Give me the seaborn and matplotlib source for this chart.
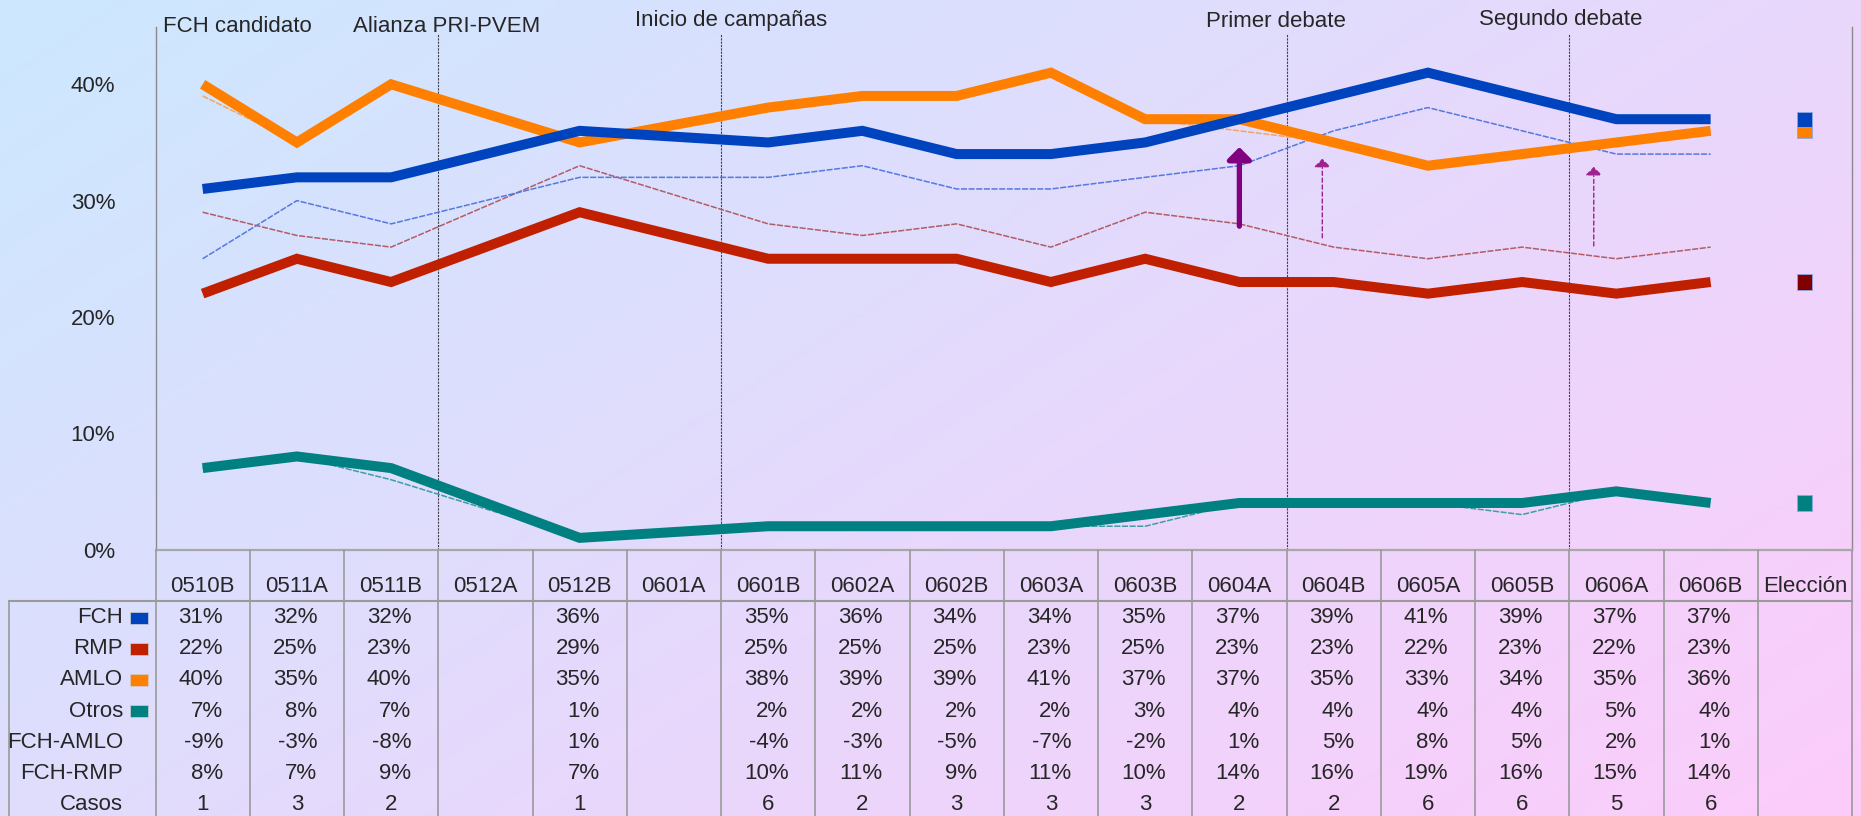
import numpy as np
import pandas as pd
import matplotlib
matplotlib.use("Agg")
import matplotlib.pyplot as plt
import seaborn as sns
from matplotlib.transforms import blended_transform_factory
from matplotlib.lines import Line2D
from matplotlib.patches import Rectangle

# ---------------- data ----------------
periods = ["0510B", "0511A", "0511B", "0512A", "0512B", "0601A", "0601B", "0602A",
           "0602B", "0603A", "0603B", "0604A", "0604B", "0605A", "0605B", "0606A",
           "0606B", "Elección"]
N = None
fch = [31, 32, 32, N, 36, N, 35, 36, 34, 34, 35, 37, 39, 41, 39, 37, 37]
rmp = [22, 25, 23, N, 29, N, 25, 25, 25, 23, 25, 23, 23, 22, 23, 22, 23]
amlo = [40, 35, 40, N, 35, N, 38, 39, 39, 41, 37, 37, 35, 33, 34, 35, 36]
otros = [7, 8, 7, N, 1, N, 2, 2, 2, 2, 3, 4, 4, 4, 4, 5, 4]
fch_thin = [25, 30, 28, N, 32, N, 32, 33, 31, 31, 32, 33, 36, 38, 36, 34, 34]
rmp_thin = [29, 27, 26, N, 33, N, 28, 27, 28, 26, 29, 28, 26, 25, 26, 25, 26]
amlo_thin = [39, 35, 40, N, 35, N, 38, 39, 39, 41, 37, 36, 35, 33, 34, 35, 36]
otros_thin = [7, 8, 6, N, 1, N, 2, 2, 2, 2, 2, 4, 4, 4, 3, 5, 4]
fch_amlo = [-9, -3, -8, N, 1, N, -4, -3, -5, -7, -2, 1, 5, 8, 5, 2, 1]
fch_rmp = [8, 7, 9, N, 7, N, 10, 11, 9, 11, 10, 14, 16, 19, 16, 15, 14]
casos = [1, 3, 2, N, 1, N, 6, 2, 3, 3, 3, 2, 2, 6, 6, 5, 6]
election_series = ["Otros", "RMP", "AMLO", "FCH"]
election_values = [4, 23, 36, 37]
events = ["FCH candidato", "Alianza PRI-PVEM", "Inicio de campañas", "Primer debate", "Segundo debate"]
event_lines = [2.5, 5.5, 11.5, 14.5]
arrow_x = [11.0, 11.88, 14.76]
arrow_from = [27.8, 26.8, 26.1]
arrow_to = [34.6, 33.6, 32.9]
yticks = [0, 10, 20, 30, 40]

series_names = ["FCH", "RMP", "AMLO", "Otros"]
thick = {"FCH": fch, "RMP": rmp, "AMLO": amlo, "Otros": otros}
thin = {"FCH": fch_thin, "RMP": rmp_thin, "AMLO": amlo_thin, "Otros": otros_thin}
colors = {"FCH": "#0043BE", "RMP": "#C01F00", "AMLO": "#FF8000", "Otros": "#008080"}
thin_colors = {"FCH": "#5579DC", "RMP": "#B25C66", "AMLO": "#F6A45E", "Otros": "#3E9EA4"}
elec_colors = {"FCH": "#0043BE", "RMP": "#800000", "AMLO": "#FF8000", "Otros": "#008080"}


def long_df(d):
    rows = []
    for name, vals in d.items():
        for i, v in enumerate(vals):
            if v is not None:
                rows.append({"x": i, "value": v / 100.0, "series": name})
    return pd.DataFrame(rows)


df_thick = long_df(thick)
df_thin = long_df(thin)
df_elec = pd.DataFrame({"x": [len(periods) - 1] * 4,
                        "value": [v / 100.0 for v in election_values],
                        "series": election_series})

# ---------------- figure ----------------
sns.set_style("white")
plt.rcParams["font.family"] = ["Liberation Sans", "DejaVu Sans"]
FS = 16
W, H = 1861, 816
fig = plt.figure(figsize=(W / 100, H / 100), dpi=100)


def fx(px):
    return px / W


def fy(px):
    return 1 - px / H


# gradient background
bg = fig.add_axes([0, 0, 1, 1], zorder=-10)
gx, gy = np.meshgrid(np.linspace(0, 1, 400), np.linspace(0, 1, 200))
t = (gx * 0.6 + gy * 0.4)
c0 = np.array([0.80, 0.91, 1.00])
c1 = np.array([0.99, 0.80, 0.98])
img = c0[None, None, :] * (1 - t[..., None]) + c1[None, None, :] * t[..., None]
bg.imshow(img, aspect="auto", extent=[0, 1, 0, 1], origin="upper")
bg.set_axis_off()

x_left, x_right, y_top, y_zero = 155.5, 1852, 27, 549.5
ax = fig.add_axes([fx(x_left), fy(y_zero), (x_right - x_left) / W, (y_zero - y_top) / H])
ax.set_facecolor("none")
ax.set_xlim(-0.5, len(periods) - 0.5)
ax.set_ylim(0, (y_zero - y_top) / 1163.0)

# thin lines
sns.lineplot(data=df_thin, x="x", y="value", hue="series", hue_order=["Otros", "AMLO", "RMP", "FCH"],
             palette=thin_colors, linewidth=1.1, legend=False, sort=True, ax=ax, estimator=None)
for ln in ax.lines:
    ln.set_dashes((4, 1))

# thick lines
sns.lineplot(data=df_thick, x="x", y="value", hue="series", hue_order=["Otros", "AMLO", "RMP", "FCH"],
             palette=colors, linewidth=7.2, legend=False, sort=True, ax=ax, estimator=None,
             solid_capstyle="butt", solid_joinstyle="miter")

# election markers
sns.scatterplot(data=df_elec, x="x", y="value", hue="series", palette=elec_colors, marker="s",
                s=118, linewidth=0.6, edgecolor="#8fa6e6", legend=False, ax=ax, zorder=5)

# event lines
for xv in event_lines:
    ax.axvline(xv, ymin=0, ymax=0.987, color="#404040", lw=0.8, ls=(0, (2, 1)), zorder=1)

# arrows
for k, (xa, y0, y1) in enumerate(zip(arrow_x, arrow_from, arrow_to)):
    if k == 0:
        props = dict(arrowstyle="-|>,head_length=0.4,head_width=0.4", mutation_scale=18,
                     lw=3.8, color="#800080", shrinkA=0, shrinkB=0)
    else:
        props = dict(arrowstyle="-|>,head_length=0.5,head_width=0.5", mutation_scale=10,
                     lw=1.0, color="#A0208F", linestyle=(0, (3, 2)), shrinkA=0, shrinkB=0)
    ax.annotate("", xy=(xa, y1 / 100), xytext=(xa, y0 / 100), arrowprops=props, zorder=6)

# axes styling
ax.set_xticks([])
ax.set_yticks([v / 100 for v in yticks])
ax.set_yticklabels([f"{v}%" for v in yticks], fontsize=FS)
ax.tick_params(axis="y", length=0, pad=29)
ax.set_xlabel("")
ax.set_ylabel("")
ax.spines["top"].set_visible(False)
ax.spines["left"].set_color("#8a8a8a")
ax.spines["left"].set_linewidth(1.0)
ax.spines["right"].set_color("#8a8a8a")
ax.spines["right"].set_linewidth(1.0)
ax.spines["bottom"].set_color("#a8a8a8")
ax.spines["bottom"].set_linewidth(1.6)

# event labels
bt = blended_transform_factory(ax.transData, fig.transFigure)
fig.text(fx(163), fy(32.3), events[0], fontsize=FS, ha="left", va="baseline")
label_pos = [(2.59, 32.3), (5.61, 26), (11.39, 27.3), (14.41, 25)]
for name, (xv, ypx) in zip(events[1:], label_pos):
    ax.text(xv, fy(ypx), name, transform=bt, fontsize=FS, ha="center", va="baseline")

# ---------------- table ----------------
grid_c = "#9a9a9a"
for k in range(len(periods) + 1):
    xv = k - 0.5
    fig.add_artist(Line2D([ax.transData.transform((xv, 0))[0] / W] * 2, [fy(y_zero), 0],
                          transform=fig.transFigure, color=grid_c, lw=1.2))
fig.add_artist(Line2D([fx(9), fx(9)], [fy(601), 0], transform=fig.transFigure, color=grid_c, lw=1.2))
fig.add_artist(Line2D([fx(9), fx(x_right)], [fy(601), fy(601)], transform=fig.transFigure,
                      color=grid_c, lw=1.5))

for i, p in enumerate(periods):
    ax.text(i, fy(587), p, transform=bt, fontsize=FS, ha="center", va="center")

row_names = ["FCH", "RMP", "AMLO", "Otros", "FCH-AMLO", "FCH-RMP", "Casos"]
row_vals = [fch, rmp, amlo, otros, fch_amlo, fch_rmp, casos]
row_y = [617.5 + 31.2 * r for r in range(7)]
for r, (name, vals) in enumerate(zip(row_names, row_vals)):
    yy = row_y[r]
    fig.text(fx(123), fy(yy), name, fontsize=FS, ha="right", va="center")
    if name in colors:
        fig.add_artist(Rectangle((fx(129.5), fy(yy + 6)), fx(18), 12 / H, transform=fig.transFigure,
                                 facecolor=colors[name], edgecolor="#d0d0d0", lw=0.5))
    for i, v in enumerate(vals):
        if v is None:
            continue
        if name == "Casos":
            ax.text(i, fy(yy), f"{v}", transform=bt, fontsize=FS, ha="center", va="center")
        else:
            ax.text(i + 0.215, fy(yy), f"{v}%", transform=bt, fontsize=FS, ha="right", va="center")

fig.savefig("out.png", dpi=100)
